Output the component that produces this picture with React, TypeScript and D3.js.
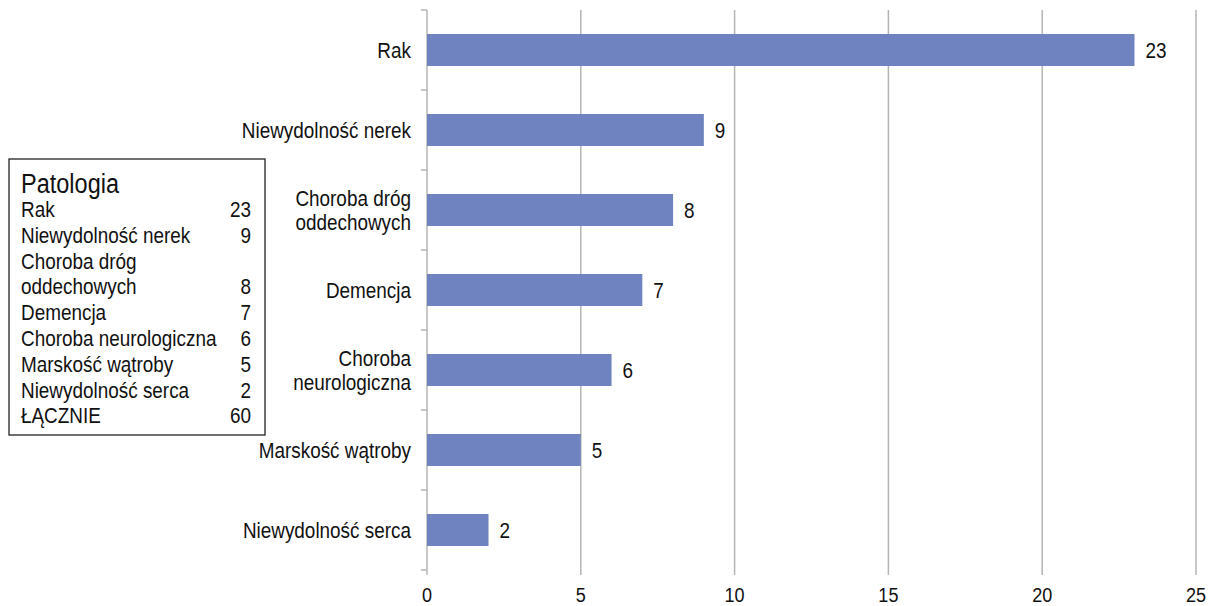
import React from "react";
import * as d3 from "d3";

const categories = [
  ["Rak"],
  ["Niewydolność nerek"],
  ["Choroba dróg", "oddechowych"],
  ["Demencja"],
  ["Choroba", "neurologiczna"],
  ["Marskość wątroby"],
  ["Niewydolność serca"],
];
const values = [23, 9, 8, 7, 6, 5, 2];
const xTicks = [0, 5, 10, 15, 20, 25];

const legendTitle = "Patologia";
const legendRows: [string, string][] = [
  ["Rak", "23"],
  ["Niewydolność nerek", "9"],
  ["Choroba dróg", ""],
  ["oddechowych", "8"],
  ["Demencja", "7"],
  ["Choroba neurologiczna", "6"],
  ["Marskość wątroby", "5"],
  ["Niewydolność serca", "2"],
  ["ŁĄCZNIE", "60"],
];

const FONT = "'Liberation Sans', Arial, sans-serif";

function T({ x, y, size, anchor = "start", sx = 0.86, children }: { x: number; y: number; size: number; anchor?: string; sx?: number; children: React.ReactNode }) {
  return (
    <text transform={`translate(${x},${y}) scale(${sx},1)`} textAnchor={anchor} fontSize={size} fill="#111">
      {children}
    </text>
  );
}

export default function App() {
  const W = 1217, H = 606;
  const x = d3.scaleLinear().domain([0, 25]).range([427, 1196]);
  const idx = categories.map((_, i) => String(i));
  const y = d3.scaleBand().domain(idx).range([10, 570]).paddingInner(0.6).paddingOuter(0.3);
  const yb = d3.scaleBand().domain(idx).range([10, 570]);
  const barColor = "#6f83c0";
  const grid = "#b4b4b4";
  return (
    <svg width={W} height={H} style={{ position: "absolute", left: 0, top: 0 }} fontFamily={FONT}>
      <rect width={W} height={H} fill="#fff" />
      {xTicks.map((t) => (
        <g key={t}>
          <line x1={x(t)} x2={x(t)} y1={10} y2={575} stroke={grid} strokeWidth={1.5} />
          <T x={x(t)} y={602} size={21} anchor="middle">{t}</T>
        </g>
      ))}
      {idx.map((k) => (
        <line key={"t" + k} x1={421} x2={427} y1={yb(k)!} y2={yb(k)!} stroke={grid} strokeWidth={1.5} />
      ))}
      <line x1={421} x2={427} y1={570} y2={570} stroke={grid} strokeWidth={1.5} />
      {values.map((v, i) => {
        const k = String(i);
        const cy = y(k)! + y.bandwidth() / 2;
        const lines = categories[i];
        return (
          <g key={k}>
            <rect x={x(0)} y={y(k)} width={x(v) - x(0)} height={y.bandwidth()} fill={barColor} />
            <T x={x(v) + 11} y={cy + 8} size={22}>{v}</T>
            {lines.map((l, j) => (
              <T key={j} x={411} y={cy + 8 + (j - (lines.length - 1) / 2) * 23.5} size={22} anchor="end">{l}</T>
            ))}
          </g>
        );
      })}
      <rect x={9} y={159} width={256} height={276} fill="none" stroke="#222" strokeWidth={1.3} />
      <T x={21} y={193} size={28} sx={0.84}>{legendTitle}</T>
      {legendRows.map(([a, b], i) => (
        <g key={"l" + i}>
          <T x={21} y={217 + i * 25.8} size={22}>{a}</T>
          <T x={251} y={217 + i * 25.8} size={22} anchor="end">{b}</T>
        </g>
      ))}
    </svg>
  );
}
